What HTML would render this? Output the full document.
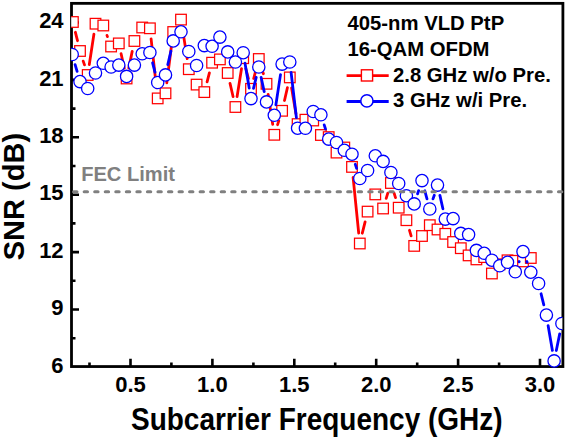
<!DOCTYPE html>
<html><head><meta charset="utf-8"><style>
html,body{margin:0;padding:0;background:#fff;width:566px;height:437px;overflow:hidden}
svg{position:absolute;left:0;top:0;font-family:"Liberation Sans",sans-serif;font-weight:bold}
</style></head><body>
<svg width="566" height="437" viewBox="0 0 566 437">
<defs><clipPath id="c"><rect x="71.2" y="3" width="491.2" height="366"/></clipPath></defs>
<rect x="71.5" y="3.35" width="491.4" height="363.2" fill="none" stroke="#000" stroke-width="2.8"/>
<path d="M89.5 366.6V362.6M130.5 366.6V358.8M171.4 366.6V362.6M212.4 366.6V358.8M253.4 366.6V362.6M294.3 366.6V358.8M335.2 366.6V362.6M376.2 366.6V358.8M417.2 366.6V362.6M458.1 366.6V358.8M499.1 366.6V362.6M540.0 366.6V358.8M71.5 338.2H75.5M71.5 309.5H79.0M71.5 280.8H75.5M71.5 252.1H79.0M71.5 223.4H75.5M71.5 194.7H79.0M71.5 166.0H75.5M71.5 137.3H79.0M71.5 108.6H75.5M71.5 79.9H79.0M71.5 51.2H75.5M71.5 22.5H79.0" stroke="#000" stroke-width="2.6" fill="none"/>
<g clip-path="url(#c)">
<path d="M75.4 32.3L77.5 40.7M83.2 61.1L84.5 64.9M89.3 64.5L93.9 34.2M107.0 35.4L107.4 36.6M121.1 53.7L124.3 68.2M128.8 68.1L132.2 51.4M151.1 38.8L156.5 87.9M166.8 82.8L171.9 42.5M182.7 30.1L187.2 58.7M207.1 81.9L209.4 72.9M230.0 83.3L233.1 96.7M237.1 96.5L241.5 68.7M245.8 68.5L248.4 78.5M253.7 78.5L256.1 69.3M261.9 69.1L263.4 73.7M268.1 94.3L272.7 124.3M277.6 124.7L278.8 120.9M284.5 100.5L287.4 87.7M291.6 87.9L295.9 113.6M353.1 177.4L358.7 233.0M362.3 233.2L365.1 221.9M386.2 198.4L387.8 193.1M394.1 193.1L395.5 197.6M409.5 230.3L411.1 235.8" stroke="#ff0000" stroke-width="2.8" stroke-linecap="round" fill="none"/>
<g fill="#fff" stroke="#ff0000" stroke-width="1.25"><rect x="67.6" y="16.7" width="10.6" height="10.6"/><rect x="74.7" y="45.7" width="10.6" height="10.6"/><rect x="82.4" y="69.7" width="10.6" height="10.6"/><rect x="90.2" y="18.4" width="10.6" height="10.6"/><rect x="98.0" y="20.2" width="10.6" height="10.6"/><rect x="105.8" y="41.2" width="10.6" height="10.6"/><rect x="113.5" y="38.1" width="10.6" height="10.6"/><rect x="121.3" y="73.2" width="10.6" height="10.6"/><rect x="129.1" y="35.7" width="10.6" height="10.6"/><rect x="136.9" y="22.2" width="10.6" height="10.6"/><rect x="144.6" y="23.0" width="10.6" height="10.6"/><rect x="152.4" y="93.1" width="10.6" height="10.6"/><rect x="160.2" y="88.0" width="10.6" height="10.6"/><rect x="167.9" y="26.7" width="10.6" height="10.6"/><rect x="175.7" y="14.3" width="10.6" height="10.6"/><rect x="183.5" y="63.9" width="10.6" height="10.6"/><rect x="191.3" y="79.3" width="10.6" height="10.6"/><rect x="199.0" y="86.8" width="10.6" height="10.6"/><rect x="206.8" y="57.4" width="10.6" height="10.6"/><rect x="214.6" y="54.1" width="10.6" height="10.6"/><rect x="222.4" y="67.7" width="10.6" height="10.6"/><rect x="230.1" y="101.7" width="10.6" height="10.6"/><rect x="237.9" y="52.9" width="10.6" height="10.6"/><rect x="245.7" y="83.5" width="10.6" height="10.6"/><rect x="253.5" y="53.7" width="10.6" height="10.6"/><rect x="261.2" y="78.5" width="10.6" height="10.6"/><rect x="269.0" y="129.5" width="10.6" height="10.6"/><rect x="276.8" y="105.5" width="10.6" height="10.6"/><rect x="284.5" y="72.1" width="10.6" height="10.6"/><rect x="292.3" y="118.8" width="10.6" height="10.6"/><rect x="300.1" y="114.4" width="10.6" height="10.6"/><rect x="307.9" y="115.2" width="10.6" height="10.6"/><rect x="315.6" y="129.7" width="10.6" height="10.6"/><rect x="323.4" y="131.8" width="10.6" height="10.6"/><rect x="331.2" y="147.3" width="10.6" height="10.6"/><rect x="339.0" y="142.2" width="10.6" height="10.6"/><rect x="346.7" y="161.6" width="10.6" height="10.6"/><rect x="354.5" y="238.2" width="10.6" height="10.6"/><rect x="362.3" y="206.3" width="10.6" height="10.6"/><rect x="370.0" y="189.1" width="10.6" height="10.6"/><rect x="377.8" y="203.2" width="10.6" height="10.6"/><rect x="385.6" y="177.7" width="10.6" height="10.6"/><rect x="393.4" y="202.4" width="10.6" height="10.6"/><rect x="401.1" y="214.9" width="10.6" height="10.6"/><rect x="408.9" y="240.6" width="10.6" height="10.6"/><rect x="416.7" y="230.7" width="10.6" height="10.6"/><rect x="424.5" y="219.9" width="10.6" height="10.6"/><rect x="432.2" y="224.2" width="10.6" height="10.6"/><rect x="440.0" y="228.5" width="10.6" height="10.6"/><rect x="447.8" y="236.7" width="10.6" height="10.6"/><rect x="455.5" y="242.9" width="10.6" height="10.6"/><rect x="463.3" y="250.1" width="10.6" height="10.6"/><rect x="471.1" y="254.1" width="10.6" height="10.6"/><rect x="478.9" y="251.8" width="10.6" height="10.6"/><rect x="486.6" y="268.2" width="10.6" height="10.6"/><rect x="494.4" y="259.0" width="10.6" height="10.6"/><rect x="502.2" y="255.0" width="10.6" height="10.6"/><rect x="510.0" y="255.5" width="10.6" height="10.6"/><rect x="517.7" y="256.1" width="10.6" height="10.6"/><rect x="525.5" y="252.7" width="10.6" height="10.6"/></g>
<path d="M75.1 64.7L77.1 71.4M152.6 62.8L155.0 72.2M167.8 64.6L170.9 51.2M245.0 63.2L249.2 88.1M253.5 88.3L256.2 77.3M261.1 77.3L264.2 91.6M275.9 104.8L280.5 74.6M291.1 72.5L296.4 117.7M324.2 124.9L325.5 129.0M355.3 164.3L356.6 168.4M417.6 193.8L418.6 190.7M424.8 190.8L427.0 198.8M433.0 198.9L434.3 195.2M439.9 195.4L442.9 208.8M519.1 261.9L519.2 261.5M526.8 261.5L527.1 262.3M541.1 293.8L543.8 304.8M548.1 325.6L552.4 350.4M556.3 350.5L559.7 333.9" stroke="#0000ff" stroke-width="2.8" stroke-linecap="round" fill="none"/>
<g fill="#fff" stroke="#0000ff" stroke-width="1.3"><circle cx="72.2" cy="54.5" r="6.15"/><circle cx="80.0" cy="81.6" r="6.15"/><circle cx="87.7" cy="88.5" r="6.15"/><circle cx="95.5" cy="73.0" r="6.15"/><circle cx="103.3" cy="63.3" r="6.15"/><circle cx="111.1" cy="67.0" r="6.15"/><circle cx="118.8" cy="65.1" r="6.15"/><circle cx="126.6" cy="76.4" r="6.15"/><circle cx="134.4" cy="65.1" r="6.15"/><circle cx="142.2" cy="53.8" r="6.15"/><circle cx="149.9" cy="52.5" r="6.15"/><circle cx="157.7" cy="82.5" r="6.15"/><circle cx="165.5" cy="74.9" r="6.15"/><circle cx="173.2" cy="40.9" r="6.15"/><circle cx="181.0" cy="31.8" r="6.15"/><circle cx="188.8" cy="51.5" r="6.15"/><circle cx="196.6" cy="65.5" r="6.15"/><circle cx="204.3" cy="45.6" r="6.15"/><circle cx="212.1" cy="46.3" r="6.15"/><circle cx="219.9" cy="37.1" r="6.15"/><circle cx="227.7" cy="51.9" r="6.15"/><circle cx="235.4" cy="62.0" r="6.15"/><circle cx="243.2" cy="52.7" r="6.15"/><circle cx="251.0" cy="98.6" r="6.15"/><circle cx="258.8" cy="67.0" r="6.15"/><circle cx="266.5" cy="101.9" r="6.15"/><circle cx="274.3" cy="115.3" r="6.15"/><circle cx="282.1" cy="64.1" r="6.15"/><circle cx="289.8" cy="62.0" r="6.15"/><circle cx="297.6" cy="128.2" r="6.15"/><circle cx="305.4" cy="128.3" r="6.15"/><circle cx="313.2" cy="111.5" r="6.15"/><circle cx="320.9" cy="114.8" r="6.15"/><circle cx="328.7" cy="139.1" r="6.15"/><circle cx="336.5" cy="142.5" r="6.15"/><circle cx="344.3" cy="150.3" r="6.15"/><circle cx="352.0" cy="154.2" r="6.15"/><circle cx="359.8" cy="178.5" r="6.15"/><circle cx="367.6" cy="170.5" r="6.15"/><circle cx="375.3" cy="155.8" r="6.15"/><circle cx="383.1" cy="161.4" r="6.15"/><circle cx="390.9" cy="172.5" r="6.15"/><circle cx="398.7" cy="183.5" r="6.15"/><circle cx="406.4" cy="195.7" r="6.15"/><circle cx="414.2" cy="203.9" r="6.15"/><circle cx="422.0" cy="180.6" r="6.15"/><circle cx="429.8" cy="209.0" r="6.15"/><circle cx="437.5" cy="185.1" r="6.15"/><circle cx="445.3" cy="219.1" r="6.15"/><circle cx="453.1" cy="218.6" r="6.15"/><circle cx="460.8" cy="233.4" r="6.15"/><circle cx="468.6" cy="234.6" r="6.15"/><circle cx="476.4" cy="250.4" r="6.15"/><circle cx="484.2" cy="253.3" r="6.15"/><circle cx="491.9" cy="260.2" r="6.15"/><circle cx="499.7" cy="265.8" r="6.15"/><circle cx="507.5" cy="262.3" r="6.15"/><circle cx="515.3" cy="271.8" r="6.15"/><circle cx="523.0" cy="251.6" r="6.15"/><circle cx="530.8" cy="272.2" r="6.15"/><circle cx="538.6" cy="283.5" r="6.15"/><circle cx="546.4" cy="315.1" r="6.15"/><circle cx="554.1" cy="360.9" r="6.15"/><circle cx="561.9" cy="323.5" r="6.15"/></g>
</g>
<path d="M73.65 191.7H562" stroke="#808080" stroke-width="3.1" stroke-dasharray="3.3 7.24" stroke-linecap="round" fill="none"/>
<text x="81.2" y="180.8" font-size="20.1" fill="#808080">FEC Limit</text>
<g font-size="22" fill="#000"><text transform="translate(130.5 391.5)" text-anchor="middle">0.5</text><text transform="translate(212.4 391.5)" text-anchor="middle">1.0</text><text transform="translate(294.3 391.5)" text-anchor="middle">1.5</text><text transform="translate(376.2 391.5)" text-anchor="middle">2.0</text><text transform="translate(458.1 391.5)" text-anchor="middle">2.5</text><text transform="translate(540.0 391.5)" text-anchor="middle">3.0</text><text transform="translate(63.6 372.6) scale(1 1.03)" text-anchor="end">6</text><text transform="translate(63.6 315.2) scale(1 1.03)" text-anchor="end">9</text><text transform="translate(63.6 257.8) scale(1 1.03)" text-anchor="end">12</text><text transform="translate(63.6 200.4) scale(1 1.03)" text-anchor="end">15</text><text transform="translate(63.6 143.0) scale(1 1.03)" text-anchor="end">18</text><text transform="translate(63.6 85.6) scale(1 1.03)" text-anchor="end">21</text><text transform="translate(63.6 28.2) scale(1 1.03)" text-anchor="end">24</text></g>
<text transform="translate(131 429.5) scale(1 1.09)" font-size="28" fill="#000">Subcarrier Frequency (GHz)</text>
<text transform="translate(24.2 196.6) rotate(-90)" text-anchor="middle" font-size="29" fill="#000">SNR (dB)</text>
<g font-size="20.3" fill="#000">
<text x="347.5" y="30.1">405-nm VLD PtP</text>
<text x="347.5" y="55.5">16-QAM OFDM</text>
<text x="393" y="82.1">2.8 GHz w/o Pre.</text>
<text x="393" y="107.4">3 GHz w/i Pre.</text>
</g>
<path d="M346.6 75.6H388.7" stroke="#ff0000" stroke-width="2.8"/>
<rect x="361.4" y="69.8" width="11.2" height="11.2" fill="#fff" stroke="#ff0000" stroke-width="1.4"/>
<path d="M346.6 101.5H388.7" stroke="#0000ff" stroke-width="2.8"/>
<circle cx="366.9" cy="100.9" r="6.1" fill="#fff" stroke="#0000ff" stroke-width="1.5"/>
</svg>
</body></html>
